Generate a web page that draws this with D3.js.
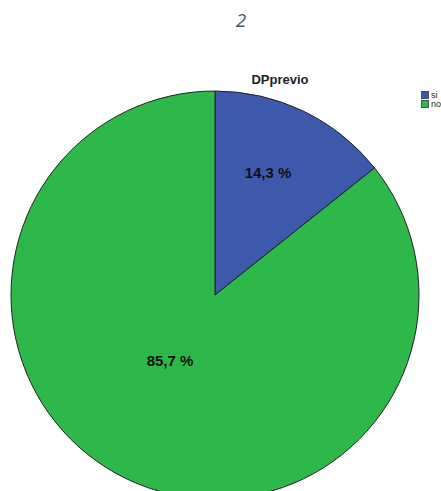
<!DOCTYPE html>
<html><head><meta charset="utf-8">
<script src="https://cdn.jsdelivr.net/npm/d3@7"></script>
<style>body{margin:0;background:#fff;overflow:hidden}svg{display:block}</style>
</head><body>
<script>
const categories = ["si", "no"];
const values = [14.3, 85.7];
const labels = ["14,3 %", "85,7 %"];
const colors = ["#3e58ac", "#2eb84a"];
const pageTitle = "2";
const chartTitle = "DPprevio";

const W = 441, H = 491;
const svg = d3.select("body").append("svg").attr("width", W).attr("height", H);

svg.append("text").attr("x", 241).attr("y", 27).attr("text-anchor", "middle")
  .attr("font-family", "Open Sans, sans-serif").attr("font-style", "italic")
  .attr("font-size", 19).attr("fill", "#3f5473").text(pageTitle);

svg.append("text").attr("x", 280).attr("y", 84).attr("text-anchor", "middle")
  .attr("font-family", "Liberation Sans, Arial, sans-serif").attr("font-weight", "bold")
  .attr("font-size", 13).attr("fill", "#222").text(chartTitle);

const cx = 215, cy = 295, r = 204;
const pie = d3.pie().sort(null).value(d => d)(values);
const arc = d3.arc().innerRadius(0).outerRadius(r);
const g = svg.append("g").attr("transform", `translate(${cx},${cy})`);
g.selectAll("path").data(pie).join("path")
  .attr("d", arc).attr("fill", (d, i) => colors[i])
  .attr("stroke", "#222").attr("stroke-width", 1);

const labelPos = [[53, -123], [-45, 65]];
g.selectAll("text.lbl").data(pie).join("text").attr("class", "lbl")
  .attr("x", (d, i) => labelPos[i][0]).attr("y", (d, i) => labelPos[i][1])
  .attr("text-anchor", "middle").attr("dominant-baseline", "central")
  .attr("font-family", "Liberation Sans, Arial, sans-serif").attr("font-weight", "bold")
  .attr("font-size", 15).attr("fill", "#111").text((d, i) => labels[i]);

const lg = svg.append("g").attr("transform", "translate(421,91)");
categories.forEach((c, i) => {
  lg.append("rect").attr("x", 0.5).attr("y", i * 9 + 0.5).attr("width", 7).attr("height", 7)
    .attr("fill", colors[i]).attr("stroke", "#333").attr("stroke-width", 0.8);
  lg.append("text").attr("x", 10).attr("y", i * 9 + 7)
    .attr("font-family", "Liberation Sans, Arial, sans-serif").attr("font-size", 9)
    .attr("fill", "#222").text(c);
});
</script>
</body></html>
